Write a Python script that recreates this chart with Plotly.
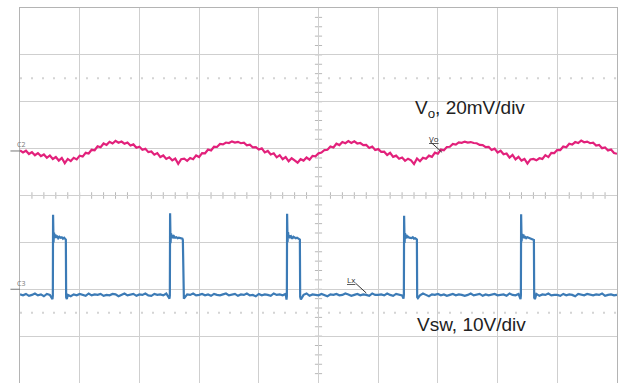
"""
Buck converter scope capture: output ripple (Vo) and switch node (Vsw)
"""

import numpy as np
import plotly.graph_objects as go

# sample positions along the screen, in horizontal divisions
t_div = np.linspace(0, 10, 201)

# Vo ripple, mV (20 mV/div), one reading per sample position
vo_mv = [
    0.2, -0.6, 0.1, -1.3, -0.5, -1.8, -0.9, -2.2, -1.5, -2.9, -1.9, -3.4, -2.6, -4.1, -3.0, -5.2,
    -3.4, -4.3, -2.9, -3.6, -2.0, -2.4, -0.8, -1.1, 0.5, 0.3, 2.0, 1.6, 3.2, 2.6, 3.9, 3.2, 4.3, 3.5,
    4.0, 3.1, 3.6, 2.3, 2.8, 1.4, 1.8, 0.5, 0.9, -0.5, -0.2, -1.6, -0.9, -2.6, -1.9, -3.4, -2.7, -4.0, -3.2, -5.5, -3.5,
    -3.3, -4.2, -3.0, -3.5, -1.9, -2.6, -0.9, -1.0, 0.6, 0.2, 1.8, 1.7, 3.0, 2.8, 3.6, 3.4, 4.1, 3.6,
    3.9, 3.3, 3.5, 2.4, 2.7, 1.5, 1.6, 0.6, 1.1, -0.6, 0.0, -1.5, -1.0, -2.7, -1.8, -3.5, -2.6, -4.4, -3.1, -4.0, -5.0,
    -3.5, -4.1, -2.8, -3.7, -2.1, -2.3, -1.0, -0.7, 0.4, 0.5, 1.9, 1.5, 3.1, 2.5, 3.8, 3.3, 4.2, 3.4,
    4.1, 3.2, 3.4, 2.5, 2.6, 1.3, 1.9, 0.4, 0.8, -0.4, -0.3, -1.7, -0.8, -2.5, -2.0, -3.3, -2.8, -4.2, -3.3, -4.0, -5.6,
    -3.2, -4.4, -2.9, -3.3, -2.0, -2.5, -0.7, -1.2, 0.6, 0.3, 1.7, 1.8, 3.0, 2.7, 3.7, 3.5, 4.0, 3.6,
    3.8, 3.4, 3.3, 2.6, 2.5, 1.6, 1.7, 0.4, 1.0, -0.7, 0.1, -1.4, -1.1, -2.8, -1.7, -3.6, -2.5, -4.1, -3.4, -5.4, -3.6,
    -3.4, -4.0, -3.1, -3.4, -1.8, -2.6, -0.8, -0.9, 0.5, 0.4, 1.9, 1.6, 3.1, 2.7, 3.8, 3.4, 4.4, 3.7,
    4.0, 3.3, 3.5, 2.3, 2.6, 1.2, 1.5, 0.2, 0.6, -0.9, -1.2,
]

# Vsw off-state level, V (10 V/div)
vsw_base = [
    -1.1, -1.3, -1.0, -1.4, -1.2, -0.9, -1.3, -1.1, -1.5, -1.0,
    -1.2, -0.9, -1.4, -1.1, -1.3, -1.0, -1.2, -1.5, -1.1, -1.3,
    -1.0, -1.2, -1.4, -0.9, -1.3, -1.1, -1.2, -1.0, -1.4, -1.2,
    -1.3, -1.0, -1.1, -1.5, -1.2, -0.9, -1.3, -1.2, -1.0, -1.4,
    -1.1, -1.2, -0.9, -1.3, -1.4, -1.0, -1.2, -1.1, -1.3, -0.9,
    -1.4, -1.1, -1.2, -1.0, -1.3, -1.5, -1.1, -1.2, -0.9, -1.3,
    -1.2, -1.0, -1.3, -1.1, -1.4, -1.0, -1.2, -1.3, -1.1, -0.9,
    -1.3, -1.2, -1.0, -1.4, -1.1, -1.2, -0.9, -1.3, -1.2, -1.5,
    -1.0, -1.3, -1.1, -1.2, -1.4, -0.9, -1.2, -1.1, -1.3, -1.0,
    -1.2, -1.4, -1.0, -1.1, -1.3, -1.2, -0.9, -1.4, -1.1, -1.2,
    -1.3, -1.0, -1.2, -1.5, -1.1, -1.2, -1.0, -1.3, -1.2, -0.9,
    -1.1, -1.4, -1.2, -1.0, -1.3, -1.1, -1.2, -1.4, -0.9, -1.2,
    -1.2, -1.1, -1.3, -0.9, -1.2, -1.4, -1.0, -1.2, -1.3, -1.1,
    -1.4, -1.0, -1.2, -1.1, -1.3, -0.9, -1.2, -1.5, -1.1, -1.2,
    -1.0, -1.3, -1.1, -1.4, -1.2, -1.0, -1.3, -1.1, -1.2, -1.4,
    -1.2, -0.9, -1.3, -1.2, -1.0, -1.4, -1.1, -1.3, -1.2, -1.0,
    -1.3, -1.2, -1.1, -1.4, -0.9, -1.2, -1.3, -1.0, -1.2, -1.1,
    -1.1, -1.3, -1.2, -1.0, -1.4, -1.1, -1.2, -0.9, -1.3, -1.2,
    -1.2, -1.4, -1.0, -1.3, -1.1, -1.2, -1.5, -1.0, -1.2, -1.3,
    -1.0, -1.2, -1.3, -1.1, -1.2, -0.9, -1.4, -1.2, -1.1, -1.3,
    -1.2,
]

# switching pulses: turn-on instants (div) and readings around each pulse
pulse_start = [0.55, 2.51, 4.47, 6.43, 8.39]
pulse_dt = [-0.006, 0.0, 0.004, 0.012, 0.02, 0.03, 0.042, 0.055, 0.07, 0.09,
            0.11, 0.13, 0.15, 0.17, 0.19, 0.21, 0.218, 0.223, 0.235]
pulse_v1 = [-2.1, -1.4, 15.9, 10.0, 12.1, 10.9, 11.7, 11.0, 11.4, 10.9, 11.2, 11.0, 11.1, 10.8, 11.0, 10.7, 10.6, -1.7, -2.1]
pulse_v2 = [-2.0, -1.3, 16.2, 9.8, 11.9, 11.1, 11.6, 10.9, 11.3, 11.0, 11.1, 10.9, 11.0, 10.9, 10.8, 10.8, 10.5, -1.8, -2.0]
pulse_v3 = [-2.2, -1.5, 16.1, 10.1, 12.2, 11.0, 11.5, 11.1, 11.3, 10.8, 11.2, 11.0, 10.9, 11.0, 10.9, 10.7, 10.6, -1.6, -2.2]
pulse_v4 = [-2.0, -1.2, 15.7, 9.9, 12.0, 10.8, 11.6, 11.0, 11.2, 11.0, 11.0, 10.9, 11.1, 10.8, 10.9, 10.8, 10.6, -1.7, -1.9]
pulse_v5 = [-2.1, -1.4, 16.0, 10.2, 11.8, 11.0, 11.7, 10.9, 11.3, 10.9, 11.1, 11.0, 10.9, 10.9, 10.8, 10.7, 10.5, -1.8, -2.1]

# channel settings
vo_scale, vo_pos = 20.0, 0.95     # mV/div, reference position (div)
vsw_scale, vsw_pos = 10.0, -2.0   # V/div

# merge off-state samples with the pulse readings
pts = [(t, v) for t, v in zip(t_div, vsw_base)
       if not any(s - 0.01 <= t <= s + 0.24 for s in pulse_start)]
for s, pv in zip(pulse_start, [pulse_v1, pulse_v2, pulse_v3, pulse_v4, pulse_v5]):
    pts += [(s + d, v) for d, v in zip(pulse_dt, pv)]
pts.sort()
vsw_t = [p[0] for p in pts]
vsw_v = [p[1] for p in pts]

fig = go.Figure()

# graticule extras: dotted rows and centre-line minor ticks
for yy in (2.5, -2.5):
    fig.add_shape(type='line', x0=0, x1=10, y0=yy, y1=yy,
                  line=dict(color='#d4d4d4', width=2, dash='2px,9px'), layer='below')
for k in range(1, 50):
    fig.add_shape(type='line', x0=k * 0.2, x1=k * 0.2, y0=-0.07, y1=0.07,
                  line=dict(color='#b8b8b8', width=1), layer='below')
for k in range(-19, 20):
    fig.add_shape(type='line', x0=4.94, x1=5.06, y0=k * 0.2, y1=k * 0.2,
                  line=dict(color='#b8b8b8', width=1), layer='below')

fig.add_trace(go.Scatter(
    x=t_div, y=[vo_pos + v / vo_scale for v in vo_mv],
    mode='lines', line=dict(color='#e2217b', width=2.2), hoverinfo='skip'
))
fig.add_trace(go.Scatter(
    x=vsw_t, y=[vsw_pos + v / vsw_scale for v in vsw_v],
    mode='lines', line=dict(color='#3c7bb6', width=2.2), hoverinfo='skip'
))

# channel reference markers on the left edge
for name, yy in (('C2', vo_pos), ('C3', vsw_pos)):
    fig.add_shape(type='line', xref='paper', x0=-0.016, x1=0, y0=yy, y1=yy,
                  line=dict(color='#777', width=1))
    fig.add_annotation(xref='paper', x=-0.008, y=yy + 0.13, text=name, showarrow=False,
                       font=dict(size=7, color='#777'))

# probe labels with leader lines
fig.add_annotation(x=6.93, y=1.22, text='<u>Vo</u>', showarrow=False,
                   font=dict(size=8, color='#333'))
fig.add_shape(type='line', x0=6.87, x1=7.07, y0=1.15, y1=0.92, line=dict(color='#333', width=1))
fig.add_annotation(x=5.56, y=-1.79, text='<u>Lx</u>', showarrow=False,
                   font=dict(size=8, color='#333'))
fig.add_shape(type='line', x0=5.62, x1=5.8, y0=-1.87, y1=-2.08, line=dict(color='#333', width=1))

fig.add_annotation(x=6.58, y=1.85, xanchor='left', text='V<sub>o</sub>, 20mV/div', showarrow=False,
                   font=dict(size=19, color='#222', family='Liberation Sans, Arial'))
fig.add_annotation(x=6.62, y=-2.75, xanchor='left', text='Vsw, 10V/div', showarrow=False,
                   font=dict(size=19, color='#222', family='Liberation Sans, Arial'))

axis = dict(showticklabels=False, ticks='', zeroline=False, dtick=1,
            gridcolor='#cfcfcf', gridwidth=1, showline=True, linecolor='#b4b4b4',
            linewidth=1, mirror=True, fixedrange=True)
fig.update_xaxes(range=[0, 10], **axis)
fig.update_yaxes(range=[-4, 4], **axis)
fig.update_layout(
    width=618, height=383,
    margin=dict(l=20, r=1, t=8, b=0),
    paper_bgcolor='white', plot_bgcolor='white',
    showlegend=False, hovermode=False
)
# drop the page's default body margin so the 618x383 figure fills the window
fig.write_html("out.html", config={'displayModeBar': False},
               post_script="document.body.style.margin='0';")
